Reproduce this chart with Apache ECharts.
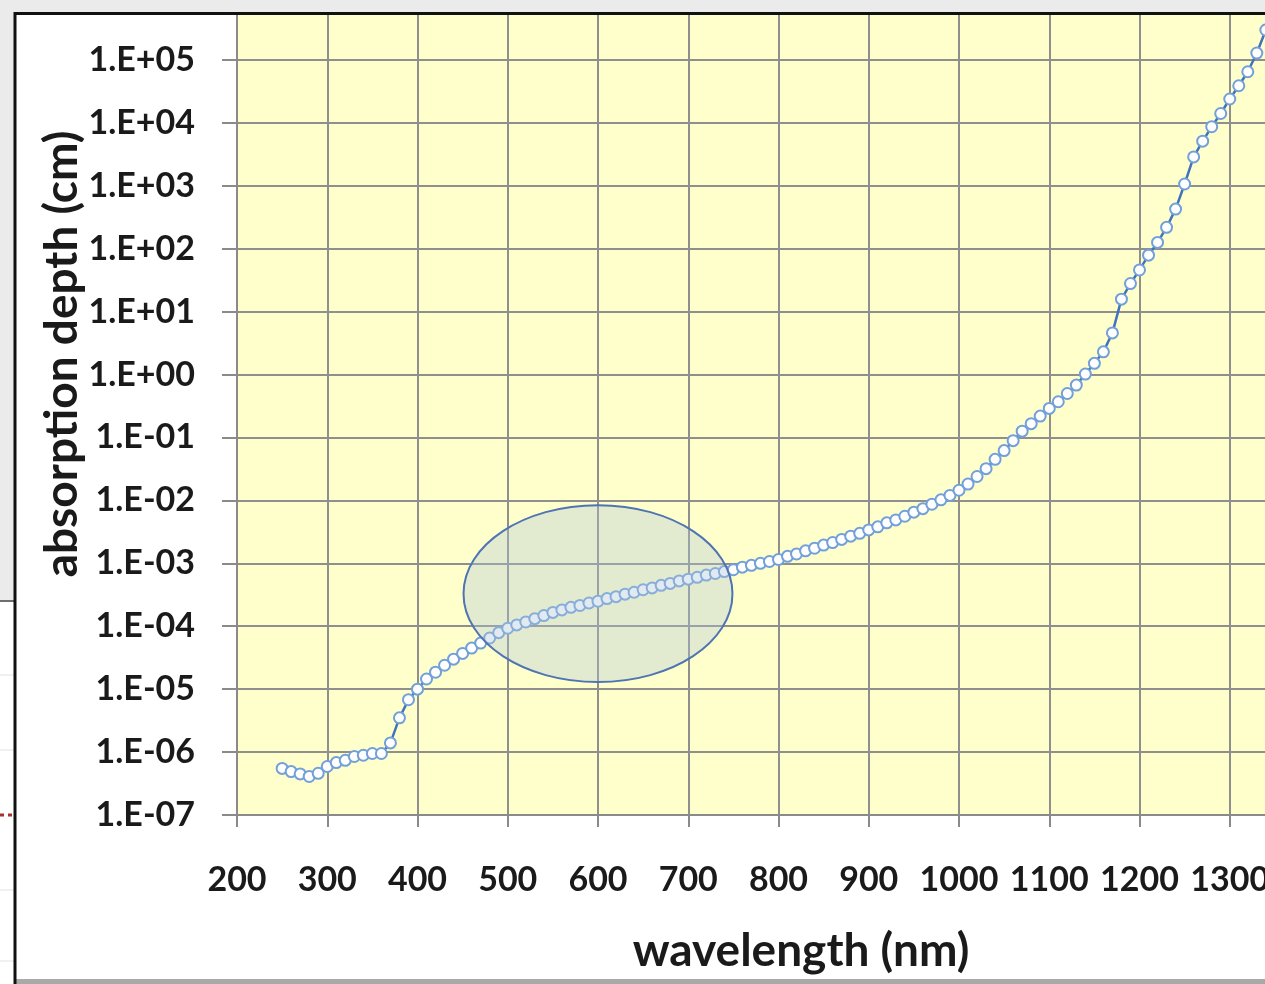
<!DOCTYPE html>
<html><head><meta charset="utf-8">
<script src="https://cdn.jsdelivr.net/npm/echarts@6/dist/echarts.min.js"></script>
<style>html,body{margin:0;padding:0;overflow:hidden;background:#fff}#c{width:1265px;height:984px}</style>
</head><body><div id="c"></div>
<script>
// wavelength (nm)
const wavelengths = [250,260,270,280,290,300,310,320,330,340,350,360,370,380,390,400,410,420,430,440,450,460,470,480,490,500,510,520,530,540,550,560,570,580,590,600,610,620,630,640,650,660,670,680,690,700,710,720,730,740,750,760,770,780,790,800,810,820,830,840,850,860,870,880,890,900,910,920,930,940,950,960,970,980,990,1000,1010,1020,1030,1040,1050,1060,1070,1080,1090,1100,1110,1120,1130,1140,1150,1160,1170,1180,1190,1200,1210,1220,1230,1240,1250,1260,1270,1280,1290,1300,1310,1320,1330,1340];
// absorption depth (cm)
const depths = [5.5e-7,4.9e-7,4.5e-7,4.1e-7,4.6e-7,5.9e-7,6.8e-7,7.4e-7,8.5e-7,8.9e-7,9.5e-7,9.5e-7,1.4e-6,3.5e-6,6.8e-6,1.0e-5,1.45e-5,1.86e-5,2.4e-5,3.0e-5,3.7e-5,4.5e-5,5.4e-5,6.5e-5,7.9e-5,9.3e-5,1.05e-4,1.17e-4,1.32e-4,1.48e-4,1.66e-4,1.82e-4,2.0e-4,2.14e-4,2.34e-4,2.5e-4,2.75e-4,2.95e-4,3.24e-4,3.47e-4,3.8e-4,4.07e-4,4.47e-4,4.8e-4,5.25e-4,5.6e-4,6.0e-4,6.5e-4,6.9e-4,7.4e-4,7.9e-4,8.7e-4,9.3e-4,1.0e-3,1.07e-3,1.15e-3,1.29e-3,1.41e-3,1.58e-3,1.74e-3,1.95e-3,2.14e-3,2.4e-3,2.7e-3,3.0e-3,3.4e-3,3.8e-3,4.4e-3,4.9e-3,5.6e-3,6.5e-3,7.4e-3,8.7e-3,1.02e-2,1.2e-2,1.45e-2,1.82e-2,2.4e-2,3.2e-2,4.5e-2,6.2e-2,8.9e-2,0.126,0.166,0.219,0.29,0.37,0.50,0.68,1.02,1.51,2.3,4.6,15.8,28,46,79,126,219,427,1070,2880,5130,8700,1.41e4,2.4e4,3.9e4,6.5e4,1.29e5,3.0e5];
// tick labels
const xTickLabels = ['200','300','400','500','600','700','800','900','1000','1100','1200','1300','1400'];
const yTickLabels = ['1.E-07','1.E-06','1.E-05','1.E-04','1.E-03','1.E-02','1.E-01','1.E+00','1.E+01','1.E+02','1.E+03','1.E+04','1.E+05','1.E+06'];
const xTitle = 'wavelength (nm)';
const yTitle = 'absorption depth (cm)';

const FONT = 'Lato';
const chart = echarts.init(document.getElementById('c'), null, {renderer: 'canvas'});
const seriesData = wavelengths.map((w, i) => [w, depths[i]]);

chart.setOption({
  animation: false,
  backgroundColor: '#ffffff',
  grid: {left: 237, top: -2.92, right: -55, bottom: 169, show: true, backgroundColor: '#FFFFCC', borderWidth: 0,
         containLabel: false, outerBoundsMode: 'none'},
  xAxis: {
    type: 'value', min: 200, max: 1400, interval: 100,
    axisLine: {lineStyle: {color: '#8a8a8a', width: 2}},
    axisTick: {show: true, length: 12, lineStyle: {color: '#8a8a8a', width: 2}},
    axisLabel: {margin: 48, color: '#1a1a1a', fontFamily: FONT, fontWeight: 'bold', fontSize: 34,
      hideOverlap: false, showMaxLabel: true, showMinLabel: true,
      formatter: v => xTickLabels[Math.round((v - 200) / 100)] || ''},
    splitLine: {show: true, lineStyle: {color: '#8f8f8f', width: 2}}
  },
  yAxis: {
    type: 'log', logBase: 10, min: 1e-7, max: 1e6, interval: 1, splitNumber: 13,
    axisLine: {show: true, lineStyle: {color: '#8a8a8a', width: 2}},
    axisTick: {show: true, length: 15, lineStyle: {color: '#8a8a8a', width: 2}},
    axisLabel: {margin: 42, color: '#1a1a1a', fontFamily: FONT, fontWeight: 'bold', fontSize: 34,
      formatter: v => { const e = Math.round(Math.log10(v)); return yTickLabels[e + 7] || ''; }},
    splitLine: {show: true, lineStyle: {color: '#8f8f8f', width: 2}},
    minorTick: {show: false}
  },
  series: [{
    type: 'line', data: seriesData, symbol: 'circle', symbolSize: 11, clip: true,
    lineStyle: {color: '#3f74bd', width: 2.5},
    itemStyle: {color: '#ffffff', borderColor: '#72a0da', borderWidth: 2},
    z: 3
  }]
});

const c = chart.convertToPixel({gridIndex: 0}, [600, 3.3e-4]);
const ex = chart.convertToPixel({gridIndex: 0}, [749, 3.3e-4]);
const ey = chart.convertToPixel({gridIndex: 0}, [600, 8.4e-3]);
const rx = ex[0] - c[0], ry = c[1] - ey[1];

chart.setOption({
  graphic: [
    {type: 'ellipse', z: 50, shape: {cx: c[0], cy: c[1], rx: rx, ry: ry},
     style: {fill: 'rgba(175,198,215,0.36)', stroke: '#4f74b3', lineWidth: 2}},
    {type: 'rect', z: 100, shape: {x: 0, y: 0, width: 1265, height: 12}, style: {fill: '#ebebeb'}},
    {type: 'rect', z: 100, shape: {x: 0, y: 0, width: 14, height: 600}, style: {fill: '#ebebeb'}},
    {type: 'rect', z: 100, shape: {x: 0, y: 600, width: 14, height: 384}, style: {fill: '#ffffff'}},
    {type: 'line', z: 101, shape: {x1: 0, y1: 601, x2: 14, y2: 601}, style: {stroke: '#6e6e6e', lineWidth: 2}},
    {type: 'line', z: 101, shape: {x1: 0, y1: 675, x2: 14, y2: 675}, style: {stroke: '#e2e2e2', lineWidth: 1}},
    {type: 'line', z: 101, shape: {x1: 0, y1: 750, x2: 14, y2: 750}, style: {stroke: '#e2e2e2', lineWidth: 1}},
    {type: 'line', z: 101, shape: {x1: 0, y1: 890, x2: 14, y2: 890}, style: {stroke: '#e2e2e2', lineWidth: 1}},
    {type: 'line', z: 101, shape: {x1: 0, y1: 961, x2: 14, y2: 961}, style: {stroke: '#e2e2e2', lineWidth: 1}},
    {type: 'line', z: 101, shape: {x1: 0, y1: 815, x2: 14, y2: 815}, style: {stroke: '#a83232', lineWidth: 3, lineDash: [4, 4]}},
    {type: 'rect', z: 100, shape: {x: 15, y: 979, width: 1250, height: 5}, style: {fill: '#a9a9a9'}},
    {type: 'polyline', z: 102, shape: {points: [[15, 984], [15, 13.5], [1265, 13.5]]}, style: {stroke: '#111111', lineWidth: 3, fill: null}},
    {type: 'text', z: 60, x: 801, y: 951, style: {text: xTitle, font: 'bold 46px Lato', fill: '#1a1a1a', align: 'center', verticalAlign: 'middle'}},
    {type: 'text', z: 60, x: 62, y: 354, rotation: Math.PI / 2, style: {text: yTitle, font: 'bold 46px Lato', fill: '#1a1a1a', align: 'center', verticalAlign: 'middle'}}
  ]
});
</script></body></html>
